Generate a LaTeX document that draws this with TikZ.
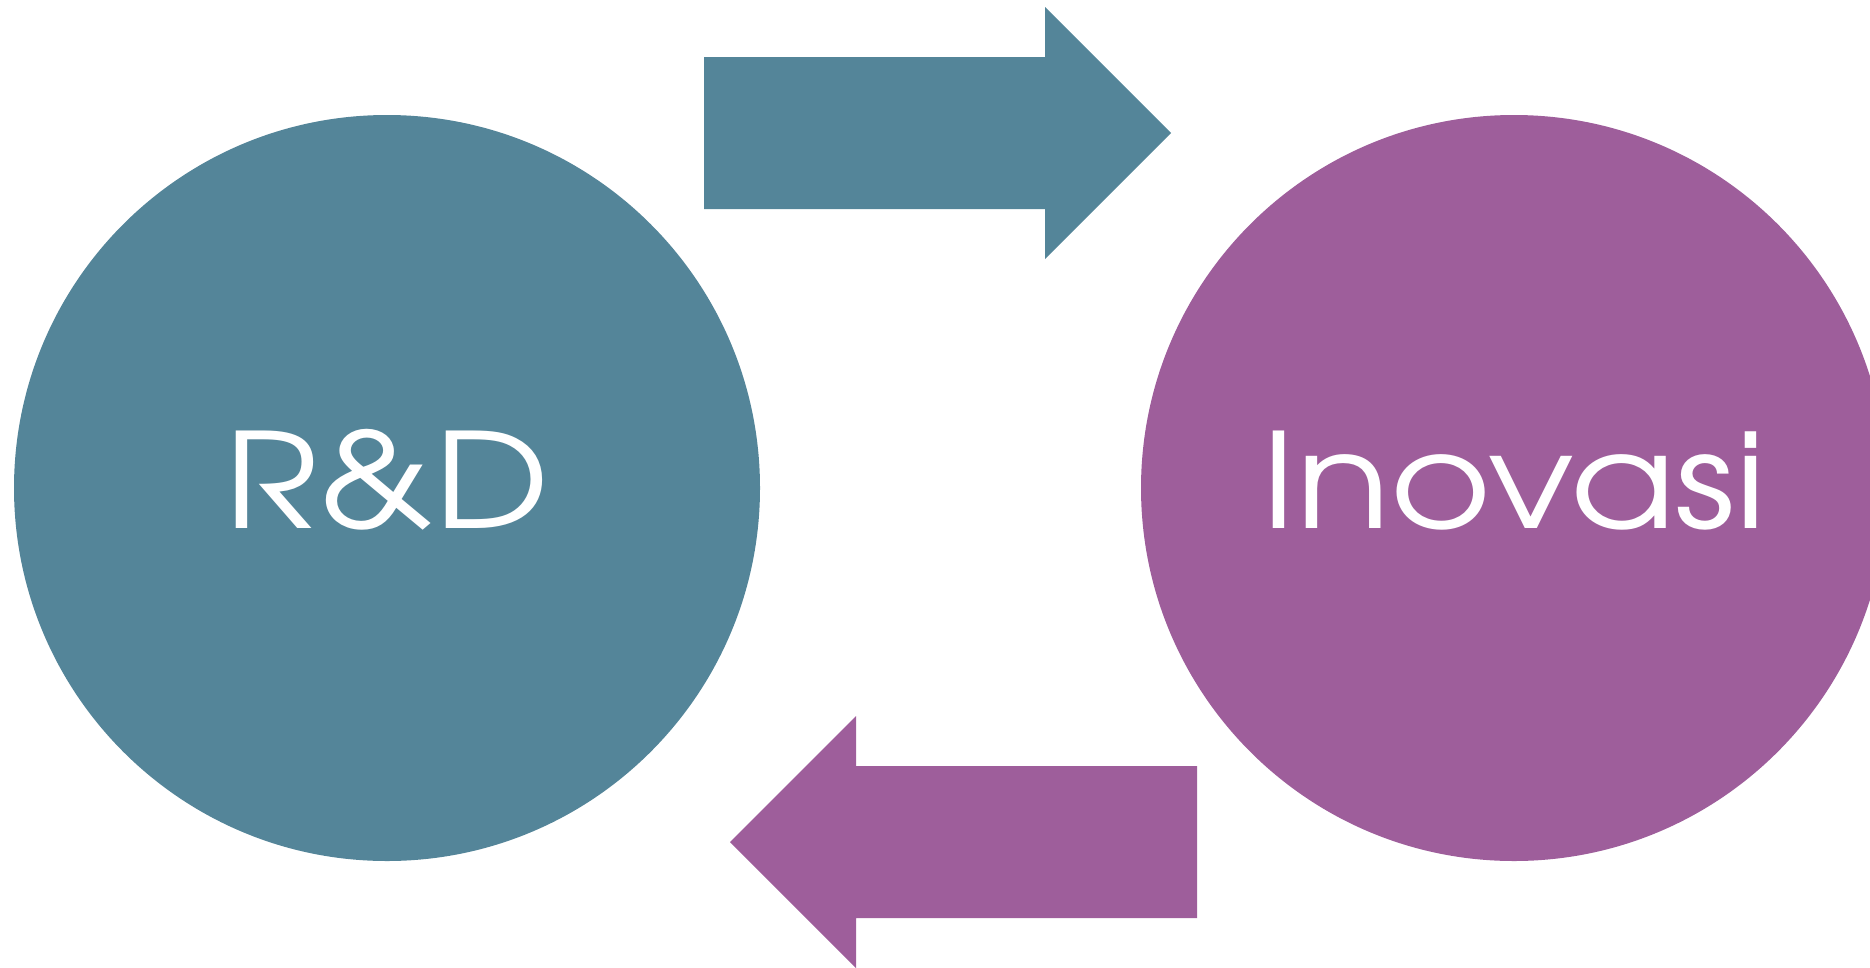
\documentclass[tikz,border=0pt]{standalone}
\usepackage{fontspec}
\newfontfamily\gothic{TeX Gyre Adventor}
\definecolor{rdblue}{RGB}{84,133,153}
\definecolor{inopurple}{RGB}{158,94,155}
\newcommand{\widetxt}[1]{\scalebox{1.17}[1]{#1}}
\begin{document}
\begin{tikzpicture}[x=1pt,y=-1pt,
  blob/.style={circle,minimum size=746pt,inner sep=0pt,draw=none},
  lbl/.style={text=white,font=\gothic\fontsize{132}{150}\selectfont,anchor=base,inner sep=0pt}]
\useasboundingbox (0,0) rectangle (1870,967);
\clip (0,0) rectangle (1870,967);
\node[blob,fill=rdblue] (rd) at (387,488) {};
\node[blob,fill=inopurple] (inov) at (1514,488) {};
\node[lbl] (rdtext) at (387,528) {\widetxt{R\&D}};
\node[lbl] (inovtext) at (1514,528) {\widetxt{Inovasi}};
% top arrow (R&D -> Inovasi)
\fill[rdblue] (704,57) -- (1045,57) -- (1045,7) -- (1171,133) -- (1045,259) -- (1045,209) -- (704,209) -- cycle;
% bottom arrow (Inovasi -> R&D)
\fill[inopurple] (1197,766) -- (856,766) -- (856,716) -- (730,842) -- (856,968) -- (856,918) -- (1197,918) -- cycle;
\end{tikzpicture}
\end{document}
